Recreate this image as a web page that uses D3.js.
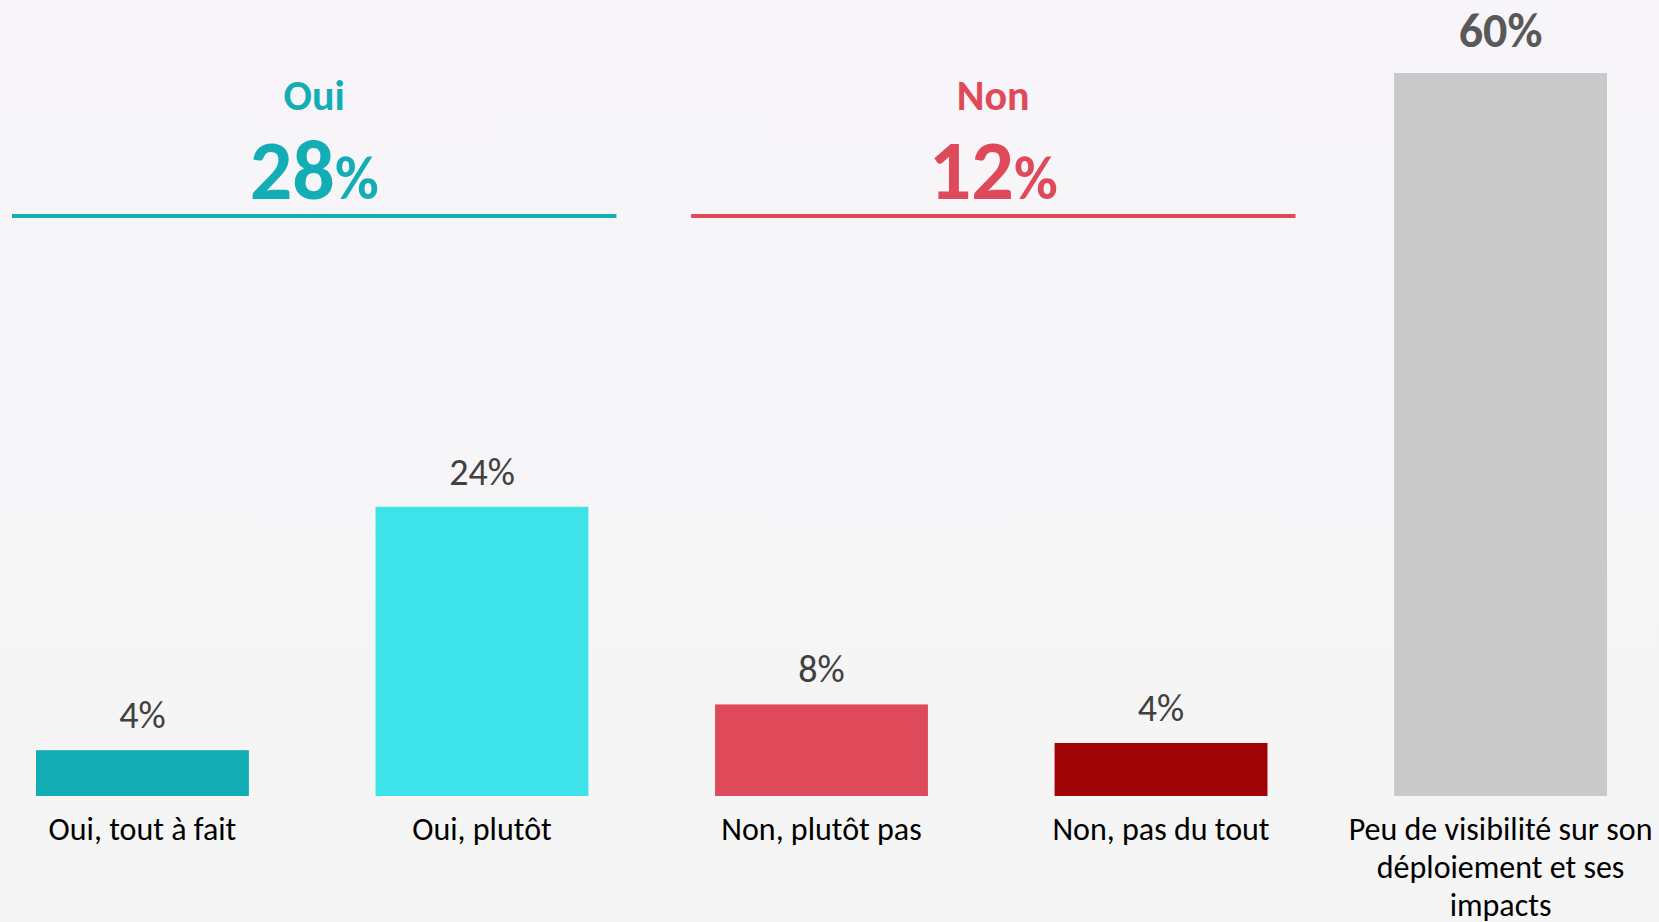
<!DOCTYPE html>
<html>
<head>
<meta charset="utf-8">
<script src="https://cdn.jsdelivr.net/npm/d3@7"></script>
<style>
  html, body { margin: 0; padding: 0; }
  body { width: 1659px; height: 922px; overflow: hidden; }
  text { font-family: Calibri, Carlito, Lato, sans-serif; }
</style>
</head>
<body>
<div id="chart"></div>
<script>
let categories = [
  'Oui, tout à fait',
  'Oui, plutôt',
  'Non, plutôt pas',
  'Non, pas du tout',
  'Peu de visibilité sur son déploiement et ses impacts'
]
let values = [3.8, 24, 7.6, 4.4, 60]
let barColors = ['#13aeb5', '#3ee3ea', '#df4a5a', '#a10407', '#c9c9c9']

let groups = ['Oui', 'Non']
let groupMembers = [[0, 1], [2, 3]]
let groupColors = ['#13aeb5', '#df4a5a']

let width = 1659
let height = 922

let svg = d3
  .select('#chart')
  .append('svg')
  .attr('width', width)
  .attr('height', height)

// soft background
let grad = svg
  .append('defs')
  .append('linearGradient')
  .attr('id', 'bg')
  .attr('x1', 0)
  .attr('y1', 0)
  .attr('x2', 0)
  .attr('y2', 1)
grad.append('stop').attr('offset', '0%').attr('stop-color', '#f7f5f9')
grad.append('stop').attr('offset', '100%').attr('stop-color', '#f5f5f5')

svg
  .append('rect')
  .attr('width', width)
  .attr('height', height)
  .attr('fill', 'url(#bg)')

let xScale = d3
  .scaleBand()
  .domain(categories)
  .range([36, 1607])
  .paddingInner(0.373)
  .paddingOuter(0)

let yScale = d3
  .scaleLinear()
  .domain([0, 60])
  .range([796, 73])

let last = categories.length - 1

svg
  .selectAll('.bar')
  .data(categories)
  .enter()
  .append('rect')
  .attr('class', 'bar')
  .attr('x', d => xScale(d))
  .attr('y', (d, i) => yScale(values[i]))
  .attr('width', xScale.bandwidth())
  .attr('height', (d, i) => yScale(0) - yScale(values[i]))
  .attr('fill', (d, i) => barColors[i])

// value labels
svg
  .selectAll('.value')
  .data(categories)
  .enter()
  .append('text')
  .attr('class', 'value')
  .attr('x', d => xScale(d) + xScale.bandwidth() / 2)
  .attr('y', (d, i) => yScale(values[i]) - (i === last ? 26 : 22))
  .attr('text-anchor', 'middle')
  .attr('font-size', (d, i) => (i === last ? 48 : 38))
  .attr('font-weight', (d, i) => (i === last ? 'bold' : 'normal'))
  .attr('fill', (d, i) => (i === last ? '#595959' : '#404040'))
  .text((d, i) => Math.round(values[i]) + '%')

// category labels, wrapped
svg
  .selectAll('.cat')
  .data(categories)
  .enter()
  .append('text')
  .attr('class', 'cat')
  .attr('x', d => xScale(d) + xScale.bandwidth() / 2)
  .attr('y', 840)
  .attr('text-anchor', 'middle')
  .attr('font-size', 32)
  .attr('fill', '#000')
  .text(d => d)
  .call(wrap, 322)

function wrap(texts, maxWidth) {
  texts.each(function() {
    let text = d3.select(this)
    let words = text.text().split(/\s+/)
    let x = text.attr('x')
    let y = text.attr('y')
    text.text(null)
    let line = []
    let lineNo = 0
    let tspan = text.append('tspan').attr('x', x).attr('y', y)
    words.forEach(w => {
      line.push(w)
      tspan.text(line.join(' '))
      if (tspan.node().getComputedTextLength() > maxWidth && line.length > 1) {
        line.pop()
        tspan.text(line.join(' '))
        line = [w]
        lineNo++
        tspan = text
          .append('tspan')
          .attr('x', x)
          .attr('y', +y + lineNo * 38)
          .text(w)
      }
    })
  })
}

// group headers
groups.forEach((g, gi) => {
  let members = groupMembers[gi]
  let x0 = xScale(categories[members[0]]) - 24
  let x1 = xScale(categories[members[members.length - 1]]) + xScale.bandwidth() + 28
  let cx = (x0 + x1) / 2
  let total = d3.sum(members, i => values[i])

  svg
    .append('line')
    .attr('x1', x0)
    .attr('x2', x1)
    .attr('y1', 216)
    .attr('y2', 216)
    .attr('stroke', groupColors[gi])
    .attr('stroke-width', 4)

  svg
    .append('text')
    .attr('x', cx)
    .attr('y', 110)
    .attr('text-anchor', 'middle')
    .attr('font-size', 42)
    .attr('font-weight', 'bold')
    .attr('fill', groupColors[gi])
    .text(g)

  let big = svg
    .append('text')
    .attr('x', cx)
    .attr('y', 199)
    .attr('text-anchor', 'middle')
    .attr('font-weight', 'bold')
    .attr('fill', groupColors[gi])

  big.append('tspan').attr('font-size', 84).text(Math.round(total))
  big.append('tspan').attr('font-size', 60).text('%')
})
</script>
</body>
</html>
